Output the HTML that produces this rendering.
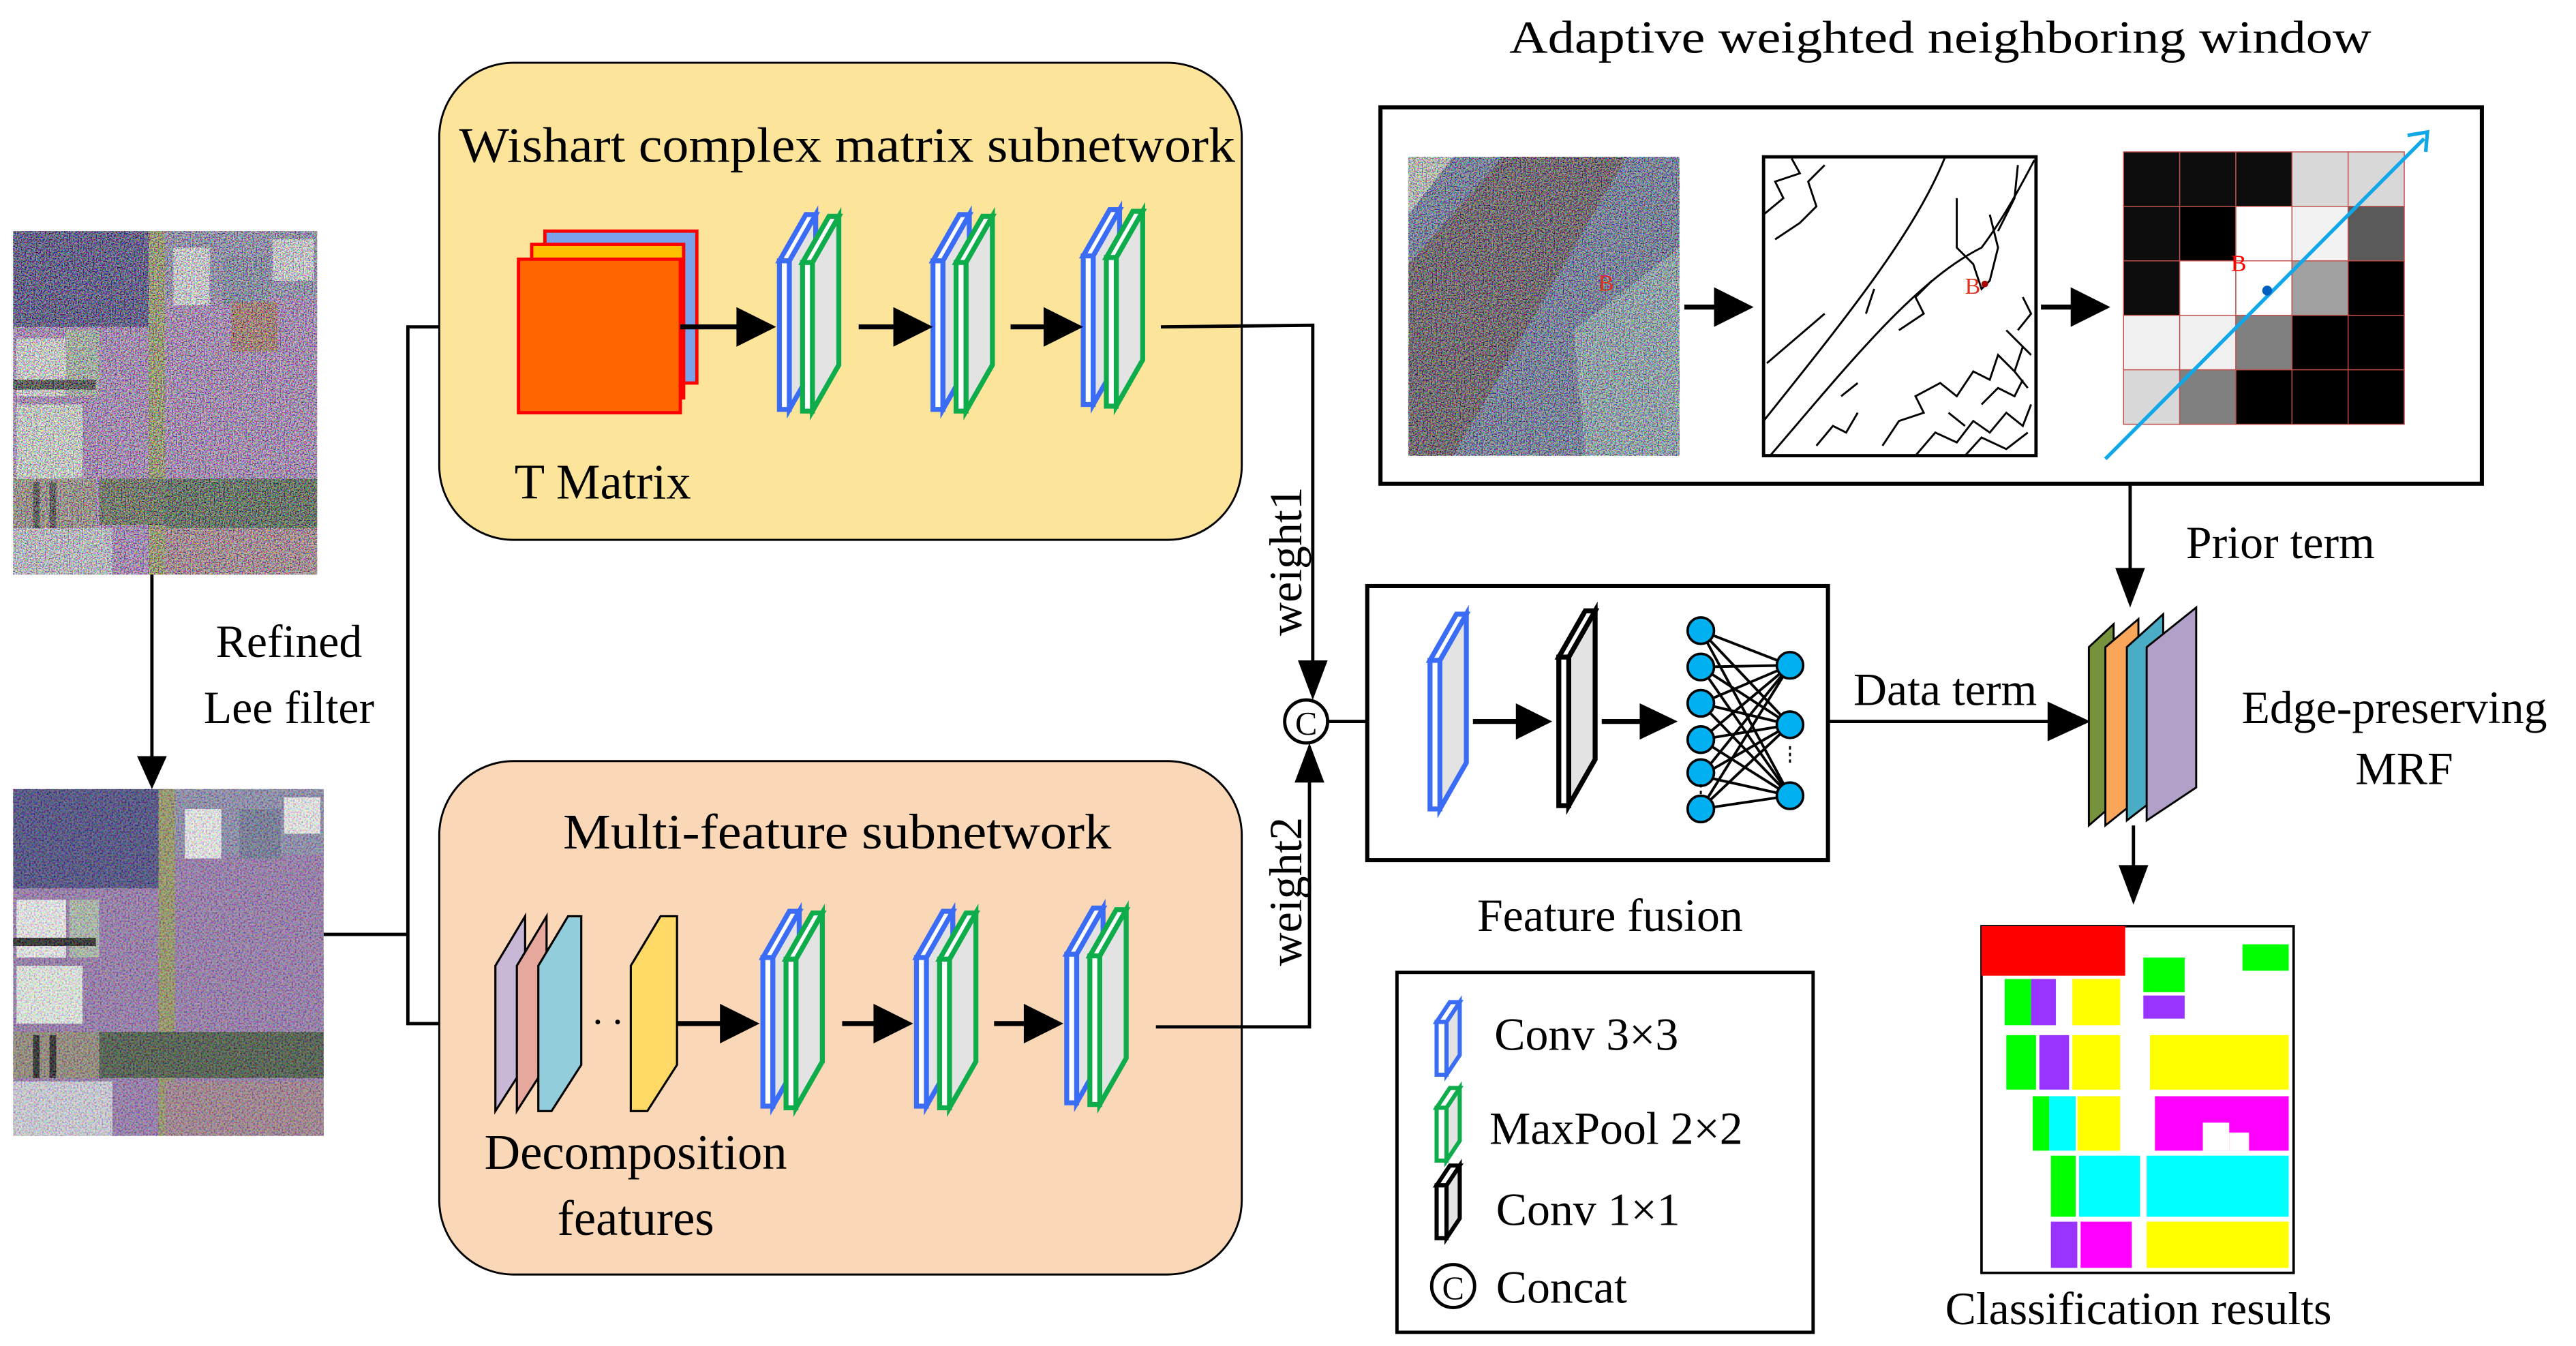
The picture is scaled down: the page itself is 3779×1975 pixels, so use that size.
<!DOCTYPE html>
<html><head><meta charset="utf-8"><style>
html,body{margin:0;padding:0;background:#fff;}
svg{display:block;}
text{font-family:"Liberation Serif",serif;fill:#000;}
</style></head><body>
<svg width="3779" height="1975" viewBox="0 0 1560 815.3" xmlns="http://www.w3.org/2000/svg">
<defs>
<filter id="noise" x="0" y="0" width="100%" height="100%">
<feTurbulence type="fractalNoise" baseFrequency="1.3" numOctaves="1" seed="3"/>
<feColorMatrix type="matrix" values="5 0 0 0 -2  0 5 0 0 -2  0 0 5 0 -2  0 0 0 0 0.55"/>
</filter>
<filter id="noise2" x="0" y="0" width="100%" height="100%">
<feTurbulence type="fractalNoise" baseFrequency="1.0" numOctaves="1" seed="7"/>
<feColorMatrix type="matrix" values="4 0 0 0 -1.5  0 4 0 0 -1.5  0 0 4 0 -1.5  0 0 0 0 0.3"/>
</filter>
<g id="slab">
<polygon points="6,28 22,0 22,90 6,118" fill="#e3e3e3"/>
<polygon points="0,28 16,0 22,0 6,28" fill="#fff"/>
<rect x="0" y="28" width="6" height="90" fill="#fff"/>
</g>
<g id="pair">
<use href="#slab" x="0" y="0" stroke="#3b6cf5" stroke-width="3"/>
<use href="#slab" x="14" y="1" stroke="#0fac4c" stroke-width="3"/>
</g>
<g id="lslab">
<polygon points="6,12 14,0 14,32 6,44" fill="#e3e3e3"/>
<polygon points="0,12 8,0 14,0 6,12" fill="#fff"/>
<rect x="0" y="12" width="6" height="32" fill="#fff"/>
</g>
</defs>

<!-- left images -->
<g>
<rect x="8" y="140" width="184" height="208" fill="#a070b8"/>
<rect x="8" y="140" width="82" height="58" fill="#201868"/>
<rect x="90" y="140" width="10" height="208" fill="#8a8a4a"/>
<rect x="100" y="140" width="92" height="40" fill="#7d7aa8"/>
<rect x="105" y="150" width="22" height="35" fill="#e8e8f0"/>
<rect x="135" y="155" width="28" height="30" fill="#6a7098"/>
<rect x="165" y="145" width="25" height="25" fill="#e0e0e8"/>
<rect x="140" y="183" width="28" height="30" fill="#9a5a4a"/>
<rect x="10" y="205" width="30" height="35" fill="#e8e8e8"/>
<rect x="40" y="200" width="20" height="40" fill="#a0b0a0"/>
<rect x="10" y="245" width="40" height="45" fill="#e0e8e0"/>
<rect x="10" y="295" width="28" height="25" fill="#f0e8d0"/>
<rect x="8" y="230" width="50" height="6" fill="#111"/>
<rect x="60" y="290" width="132" height="28" fill="#404a30"/>
<rect x="100" y="290" width="92" height="30" fill="#284028"/>
<rect x="8" y="290" width="50" height="30" fill="#8a7a70"/>
<rect x="20" y="292" width="4" height="28" fill="#111"/>
<rect x="30" y="292" width="4" height="28" fill="#111"/>
<rect x="100" y="320" width="92" height="28" fill="#a07080"/>
<rect x="8" y="320" width="60" height="28" fill="#c8c8d8"/>
<rect x="8" y="140" width="184" height="208" filter="url(#noise)"/>
</g>
<g>
<rect x="8" y="478" width="188" height="210" fill="#9070a8"/>
<rect x="8" y="478" width="88" height="60" fill="#3a3a78"/>
<rect x="96" y="478" width="10" height="210" fill="#8f8f5a"/>
<rect x="106" y="478" width="90" height="40" fill="#8484a8"/>
<rect x="112" y="490" width="22" height="30" fill="#f0f0f0"/>
<rect x="145" y="490" width="25" height="30" fill="#686e90"/>
<rect x="172" y="483" width="22" height="22" fill="#f0f0f0"/>
<rect x="10" y="545" width="30" height="35" fill="#f0f0f0"/>
<rect x="42" y="545" width="18" height="35" fill="#a8b8a8"/>
<rect x="8" y="568" width="50" height="5" fill="#111"/>
<rect x="10" y="585" width="40" height="35" fill="#e8f0e8"/>
<rect x="60" y="625" width="136" height="28" fill="#3a4a38"/>
<rect x="8" y="625" width="52" height="28" fill="#8a8070"/>
<rect x="20" y="627" width="4" height="26" fill="#111"/>
<rect x="30" y="627" width="4" height="26" fill="#111"/>
<rect x="8" y="655" width="60" height="33" fill="#d0d0dc"/>
<rect x="100" y="655" width="96" height="33" fill="#9a7888"/>
<rect x="8" y="478" width="188" height="210" filter="url(#noise2)"/>
</g>
<line x1="92" y1="348" x2="92" y2="462" stroke="#000" stroke-width="2"/>
<polygon points="83,458 101,458 92,478" fill="#000"/>
<text x="175" y="398" font-size="28" text-anchor="middle">Refined</text>
<text x="175" y="438" font-size="28" text-anchor="middle">Lee filter</text>

<polyline points="196,566 247,566" fill="none" stroke="#000" stroke-width="2"/>
<polyline points="280,198 247,198 247,620 280,620" fill="none" stroke="#000" stroke-width="2"/>
<polygon points="276,188 300,198 276,208" fill="#000"/>
<polygon points="274,610 298,620 274,630" fill="#000"/>

<!-- Wishart box -->
<rect x="266" y="38" width="486" height="289" rx="45" fill="#fde49b" stroke="#000" stroke-width="1.2"/>
<text x="513" y="98" font-size="30" text-anchor="middle" textLength="470" lengthAdjust="spacingAndGlyphs">Wishart complex matrix subnetwork</text>
<rect x="330" y="140" width="92" height="92" fill="#7aa2ea" stroke="#f00" stroke-width="2"/>
<rect x="322" y="148" width="92" height="93" fill="#ffc000" stroke="#f00" stroke-width="2"/>
<rect x="314" y="157" width="98" height="93" fill="#ff6600" stroke="#f00" stroke-width="2"/>
<text x="365" y="302" font-size="30" text-anchor="middle">T Matrix</text>
<use href="#pair" x="472" y="130"/>
<use href="#pair" x="565" y="130"/>
<use href="#pair" x="656" y="127"/>
<line x1="412" y1="198" x2="450" y2="198" stroke="#000" stroke-width="3"/>
<polygon points="446,186 470,198 446,210" fill="#000"/>
<line x1="520" y1="198" x2="545" y2="198" stroke="#000" stroke-width="3"/>
<polygon points="541,186 565,198 541,210" fill="#000"/>
<line x1="612" y1="198" x2="635" y2="198" stroke="#000" stroke-width="3"/>
<polygon points="632,186 656,198 632,210" fill="#000"/>
<polyline points="703,198 795,197 795,404" fill="none" stroke="#000" stroke-width="2"/>
<polygon points="786,400 804,400 795,424" fill="#000"/>

<!-- Multi-feature box -->
<rect x="266" y="461" width="486" height="311" rx="45" fill="#f9d7b7" stroke="#000" stroke-width="1.2"/>
<text x="507" y="514" font-size="30" text-anchor="middle" textLength="332" lengthAdjust="spacingAndGlyphs">Multi-feature subnetwork</text>
<g stroke="#000" stroke-width="1.3">
<polygon points="300,585 318,555 318,645 300,673" fill="#c8b7d6"/>
<polygon points="313,585 331,555 331,645 313,673" fill="#e6a79c"/>
<polygon points="326,585 344,555 352,555 352,645 334,673 326,673" fill="#92cddc"/>
<polygon points="382,585 400,555 410,555 410,645 392,673 382,673" fill="#ffd966"/>
</g>
<text x="368" y="620" font-size="24" text-anchor="middle">. .</text>
<use href="#pair" x="462" y="552"/>
<use href="#pair" x="555" y="552"/>
<use href="#pair" x="646" y="550"/>
<line x1="410" y1="620" x2="440" y2="620" stroke="#000" stroke-width="3"/>
<polygon points="436,608 460,620 436,632" fill="#000"/>
<line x1="510" y1="620" x2="532" y2="620" stroke="#000" stroke-width="3"/>
<polygon points="529,608 553,620 529,632" fill="#000"/>
<line x1="602" y1="620" x2="622" y2="620" stroke="#000" stroke-width="3"/>
<polygon points="620,608 644,620 620,632" fill="#000"/>
<text x="385" y="708" font-size="30" text-anchor="middle">Decomposition</text>
<text x="385" y="748" font-size="30" text-anchor="middle">features</text>
<polyline points="700,622 793,622 793,470" fill="none" stroke="#000" stroke-width="2"/>
<polygon points="784,474 802,474 793,450" fill="#000"/>

<text transform="translate(788,340) rotate(-90)" font-size="28" text-anchor="middle">weight1</text>
<text transform="translate(788,540) rotate(-90)" font-size="28" text-anchor="middle">weight2</text>

<circle cx="791" cy="437" r="13" fill="#fff" stroke="#000" stroke-width="2"/>
<text x="791" y="445" font-size="20" text-anchor="middle">C</text>
<line x1="804" y1="437" x2="840" y2="437" stroke="#000" stroke-width="2"/>
<polygon points="836,427 860,437 836,447" fill="#000"/>

<!-- Feature fusion -->
<rect x="828" y="355" width="279" height="166" fill="#fff" stroke="#000" stroke-width="2.5"/>
<use href="#slab" x="866" y="372" stroke="#3b6cf5" stroke-width="3"/>
<use href="#slab" x="944" y="370" stroke="#000" stroke-width="3"/>
<line x1="892" y1="437" x2="920" y2="437" stroke="#000" stroke-width="3"/>
<polygon points="918,426 940,437 918,448" fill="#000"/>
<line x1="970" y1="437" x2="995" y2="437" stroke="#000" stroke-width="3"/>
<polygon points="993,426 1016,437 993,448" fill="#000"/>
<g stroke="#000" stroke-width="1.6">
<line x1="1030" y1="382" x2="1084" y2="403"/><line x1="1030" y1="382" x2="1084" y2="439"/><line x1="1030" y1="382" x2="1084" y2="482"/>
<line x1="1030" y1="404" x2="1084" y2="403"/><line x1="1030" y1="404" x2="1084" y2="439"/><line x1="1030" y1="404" x2="1084" y2="482"/>
<line x1="1030" y1="426" x2="1084" y2="403"/><line x1="1030" y1="426" x2="1084" y2="439"/><line x1="1030" y1="426" x2="1084" y2="482"/>
<line x1="1030" y1="448" x2="1084" y2="403"/><line x1="1030" y1="448" x2="1084" y2="439"/><line x1="1030" y1="448" x2="1084" y2="482"/>
<line x1="1030" y1="470" x2="1084" y2="403"/><line x1="1030" y1="470" x2="1084" y2="439"/><line x1="1030" y1="470" x2="1084" y2="482"/>
<line x1="1030" y1="490" x2="1084" y2="403"/><line x1="1030" y1="490" x2="1084" y2="439"/><line x1="1030" y1="490" x2="1084" y2="482"/>
</g>
<g fill="#00b0f0" stroke="#000" stroke-width="1.5">
<circle cx="1030" cy="382" r="8"/><circle cx="1030" cy="404" r="8"/><circle cx="1030" cy="426" r="8"/><circle cx="1030" cy="448" r="8"/><circle cx="1030" cy="468" r="8"/><circle cx="1030" cy="490" r="8"/>
<circle cx="1084" cy="403" r="8"/><circle cx="1084" cy="439" r="8"/><circle cx="1084" cy="482" r="8"/>
</g>
<line x1="1030" y1="475" x2="1030" y2="482" stroke="#000" stroke-width="1.2" stroke-dasharray="2,2"/>
<line x1="1084" y1="452" x2="1084" y2="462" stroke="#000" stroke-width="1.2" stroke-dasharray="2,2"/>
<text x="975" y="564" font-size="28" text-anchor="middle">Feature fusion</text>
<line x1="1107" y1="437" x2="1245" y2="437" stroke="#000" stroke-width="2"/>
<polygon points="1240,425 1266,437 1240,449" fill="#000"/>
<text x="1178" y="427" font-size="28" text-anchor="middle">Data term</text>

<!-- Adaptive window -->
<text x="1175" y="32" font-size="28" text-anchor="middle" textLength="522" lengthAdjust="spacingAndGlyphs">Adaptive weighted neighboring window</text>
<rect x="836" y="65" width="667" height="228" fill="#fff" stroke="#000" stroke-width="2.5"/>
<rect x="853" y="95" width="164" height="181" fill="#4a5a8a"/>
<path d="M853,160 L910,95 L985,95 L880,276 L853,276 Z" fill="#3a2a3a"/>
<path d="M853,95 L880,95 L853,130 Z" fill="#c0c8c0"/>
<path d="M953,200 L1017,150 L1017,276 L960,276 Z" fill="#7a9aaa"/>
<rect x="853" y="95" width="164" height="181" filter="url(#noise)"/>
<text x="968" y="176" font-size="14" style="fill:#e03020">B</text>
<line x1="1020" y1="186" x2="1040" y2="186" stroke="#000" stroke-width="3"/>
<polygon points="1038,174 1062,186 1038,198" fill="#000"/>
<rect x="1068" y="95" width="165" height="181" fill="#fff" stroke="#000" stroke-width="2"/>
<g fill="none" stroke="#000" stroke-width="1.2">
<path d="M1068,255 C1120,190 1160,140 1178,95"/>
<path d="M1072,276 C1120,220 1160,170 1200,150 C1215,130 1225,110 1232,97"/>
<path d="M1070,220 L1105,190"/>
<path d="M1068,130 L1080,120 L1075,110 L1090,105 L1085,96 M1075,145 L1090,135 L1100,125 L1095,110 L1105,100"/>
<path d="M1185,120 L1185,150 L1195,160 L1200,175 L1205,170 L1210,150 L1205,130 M1210,140 L1220,120 L1222,100"/>
<path d="M1150,200 L1165,190 L1160,180 L1170,170 M1130,190 L1135,175"/>
<path d="M1140,270 L1150,255 L1165,250 L1160,240 L1175,232 L1185,240 L1195,225 L1205,230 L1210,215 L1220,225 L1225,210 L1230,215 M1160,276 L1172,262 L1185,268 L1195,255 L1205,262 L1215,250 L1225,258 L1230,245 M1190,276 L1200,265 L1215,272 L1228,262 M1200,245 L1210,235 L1220,240 L1225,230 M1215,200 L1225,210 L1220,225 L1228,235 M1180,250 L1190,258 M1225,180 L1230,190 L1222,200"/>
<path d="M1100,270 L1110,258 L1118,262 L1125,250 M1115,240 L1125,232"/>
</g>
<text x="1190" y="178" font-size="14" style="fill:#e03020">B</text>
<circle cx="1202" cy="172" r="2" fill="#a00"/>
<line x1="1236" y1="186" x2="1256" y2="186" stroke="#000" stroke-width="3"/>
<polygon points="1254,174 1278,186 1254,198" fill="#000"/>
<g stroke="#c0504d" stroke-width="0.6">
<rect x="1286" y="92" width="34" height="33" fill="#0d0d0d"/><rect x="1320" y="92" width="34" height="33" fill="#0d0d0d"/><rect x="1354" y="92" width="34" height="33" fill="#0d0d0d"/><rect x="1388" y="92" width="34" height="33" fill="#d8d8d8"/><rect x="1422" y="92" width="34" height="33" fill="#d8d8d8"/>
<rect x="1286" y="125" width="34" height="33" fill="#0d0d0d"/><rect x="1320" y="125" width="34" height="33" fill="#000"/><rect x="1354" y="125" width="34" height="33" fill="#fff"/><rect x="1388" y="125" width="34" height="33" fill="#f2f2f2"/><rect x="1422" y="125" width="34" height="33" fill="#5a5a5a"/>
<rect x="1286" y="158" width="34" height="33" fill="#0d0d0d"/><rect x="1320" y="158" width="34" height="33" fill="#fff"/><rect x="1354" y="158" width="34" height="33" fill="#fff"/><rect x="1388" y="158" width="34" height="33" fill="#a0a0a0"/><rect x="1422" y="158" width="34" height="33" fill="#000"/>
<rect x="1286" y="191" width="34" height="33" fill="#f0f0f0"/><rect x="1320" y="191" width="34" height="33" fill="#f0f0f0"/><rect x="1354" y="191" width="34" height="33" fill="#808080"/><rect x="1388" y="191" width="34" height="33" fill="#000"/><rect x="1422" y="191" width="34" height="33" fill="#000"/>
<rect x="1286" y="224" width="34" height="33" fill="#d8d8d8"/><rect x="1320" y="224" width="34" height="33" fill="#808080"/><rect x="1354" y="224" width="34" height="33" fill="#000"/><rect x="1388" y="224" width="34" height="33" fill="#000"/><rect x="1422" y="224" width="34" height="33" fill="#000"/>
</g>
<text x="1351" y="164" font-size="14" style="fill:#f00">B</text>
<line x1="1275" y1="278" x2="1468" y2="84" stroke="#10a8e8" stroke-width="2.2"/>
<polyline points="1458,82 1470,80 1469,92" fill="none" stroke="#10a8e8" stroke-width="2.2"/>
<circle cx="1373" cy="176" r="3" fill="#0060c0"/>

<!-- Prior term / MRF -->
<line x1="1290" y1="293" x2="1290" y2="348" stroke="#000" stroke-width="2"/>
<polygon points="1281,344 1299,344 1290,368" fill="#000"/>
<text x="1381" y="338" font-size="28" text-anchor="middle">Prior term</text>
<g stroke="#000" stroke-width="1.2">
<polygon points="1265,392 1280,378 1280,487 1265,500" fill="#76923c"/>
<polygon points="1275,392 1295,375 1295,484 1275,500" fill="#f9a55a"/>
<polygon points="1288,392 1310,372 1310,480 1288,497" fill="#4bacc6"/>
<polygon points="1300,392 1330,368 1330,477 1300,497" fill="#b1a0c7"/>
</g>
<text x="1450" y="438" font-size="28" text-anchor="middle">Edge-preserving</text>
<text x="1456" y="475" font-size="28" text-anchor="middle">MRF</text>
<line x1="1292" y1="500" x2="1292" y2="528" stroke="#000" stroke-width="2"/>
<polygon points="1283,524 1301,524 1292,548" fill="#000"/>

<!-- Classification -->
<rect x="1200" y="561" width="189" height="210" fill="#fff" stroke="#000" stroke-width="1.5"/>
<rect x="1200" y="561" width="87" height="30" fill="#f00"/>
<rect x="1298" y="580" width="25" height="21" fill="#0f0"/>
<rect x="1358" y="572" width="28" height="16" fill="#0f0"/>
<rect x="1298" y="603" width="25" height="14" fill="#93f"/>
<rect x="1214" y="593" width="16" height="28" fill="#0f0"/><rect x="1230" y="593" width="15" height="28" fill="#93f"/><rect x="1255" y="593" width="29" height="28" fill="#ff0"/>
<rect x="1215" y="627" width="18" height="33" fill="#0f0"/><rect x="1235" y="627" width="18" height="33" fill="#93f"/><rect x="1255" y="627" width="29" height="33" fill="#ff0"/>
<rect x="1302" y="627" width="84" height="33" fill="#ff0"/>
<rect x="1231" y="664" width="10" height="33" fill="#0f0"/><rect x="1241" y="664" width="16" height="33" fill="#0ff"/><rect x="1258" y="664" width="26" height="33" fill="#ff0"/>
<rect x="1305" y="664" width="81" height="33" fill="#f0f"/>
<rect x="1334" y="680" width="16" height="17" fill="#fff"/><rect x="1350" y="686" width="12" height="11" fill="#fff"/>
<rect x="1242" y="700" width="15" height="37" fill="#0f0"/><rect x="1259" y="700" width="37" height="37" fill="#0ff"/><rect x="1300" y="700" width="86" height="37" fill="#0ff"/>
<rect x="1242" y="740" width="16" height="28" fill="#93f"/><rect x="1260" y="740" width="31" height="28" fill="#f0f"/><rect x="1300" y="740" width="86" height="28" fill="#ff0"/>
<text x="1295" y="802" font-size="28" text-anchor="middle">Classification results</text>

<!-- Legend -->
<rect x="846" y="589" width="252" height="218" fill="#fff" stroke="#000" stroke-width="2"/>
<use href="#lslab" x="870" y="607" stroke="#3b6cf5" stroke-width="2.5"/>
<use href="#lslab" x="870" y="659" stroke="#0fac4c" stroke-width="2.5"/>
<use href="#lslab" x="870" y="706" stroke="#000" stroke-width="2.5"/>
<text x="905" y="636" font-size="28">Conv 3×3</text>
<text x="902" y="693" font-size="28">MaxPool 2×2</text>
<text x="906" y="742" font-size="28">Conv 1×1</text>
<circle cx="880" cy="779" r="13" fill="#fff" stroke="#000" stroke-width="2"/>
<text x="880" y="787" font-size="20" text-anchor="middle">C</text>
<text x="906" y="789" font-size="28">Concat</text>
</svg>
</body></html>
